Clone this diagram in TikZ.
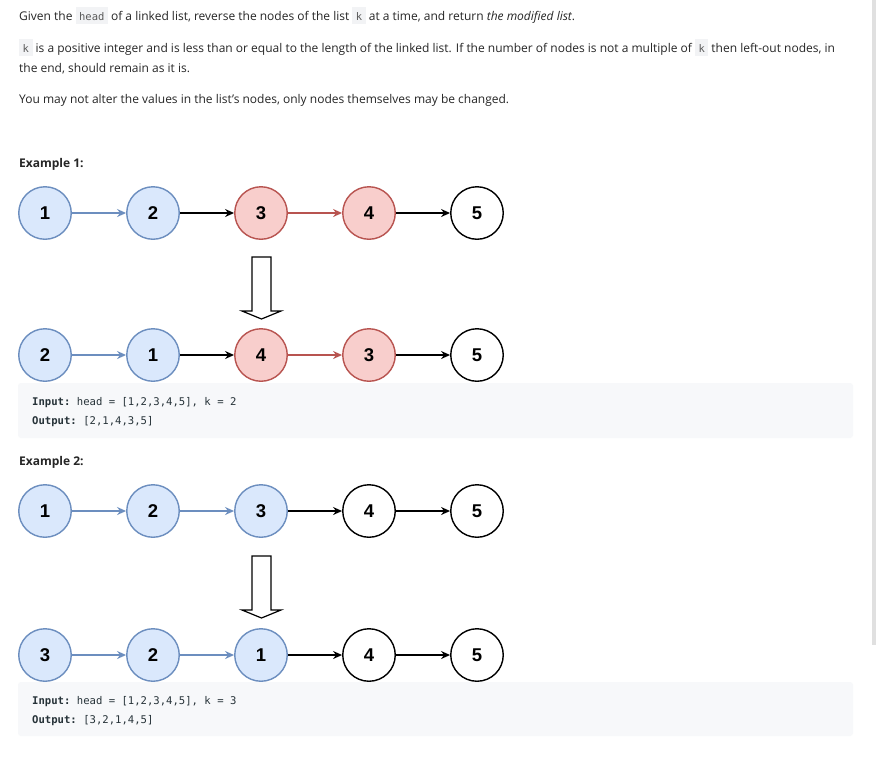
\documentclass[tikz,border=0pt]{standalone}
\usepackage{fontspec}
\setmainfont{Open Sans}
\setmonofont{DejaVu Sans Mono}
\newfontfamily\numfont{Liberation Sans}
\usetikzlibrary{arrows.meta}
\definecolor{txt}{RGB}{38,38,38}
\definecolor{bfill}{HTML}{DAE8FC}
\definecolor{bdraw}{HTML}{6C8EBF}
\definecolor{rfill}{HTML}{F8CECC}
\definecolor{rdraw}{HTML}{B85450}
\definecolor{chipbg}{RGB}{242,243,245}
\definecolor{chiptxt}{RGB}{90,90,90}
\definecolor{codebg}{RGB}{247,248,250}
\definecolor{codetxt}{RGB}{38,50,56}
\definecolor{scrollc}{RGB}{224,224,224}
\newcommand\chip[1]{{\setlength{\fboxsep}{0pt}\colorbox{chipbg}{\rule[-4pt]{0pt}{17pt}\hspace{3.5pt}{\ttfamily\fontsize{10.5}{12}\selectfont\color{chiptxt}#1}\hspace{3.5pt}}}}
\begin{document}
\begin{tikzpicture}[x=1pt,y=-1pt,
  body/.style={anchor=base west, inner sep=0pt, text=txt, font=\fontsize{12.0}{15}\selectfont},
  head/.style={anchor=base west, inner sep=0pt, text=txt, font=\bfseries\fontsize{12.0}{15}\selectfont},
  code/.style={anchor=base west, inner sep=0pt, text=codetxt, font=\ttfamily\fontsize{10.6}{12}\selectfont},
  ln/.style={circle, minimum size=52.5pt, inner sep=0pt, line width=1.4pt, font=\numfont\bfseries\fontsize{18.5}{18.5}\selectfont},
  bn/.style={ln, fill=bfill, draw=bdraw},
  rn/.style={ln, fill=rfill, draw=rdraw},
  wn/.style={ln, fill=white, draw=black},
  lk/.style={-{Stealth[length=9pt,width=8pt,inset=3pt]}, line width=1.3pt},
  bl/.style={lk, draw=bdraw, fill=bdraw},
  rl/.style={lk, draw=rdraw, fill=rdraw},
  kl/.style={lk, draw=black, fill=black},
  codebox/.style={fill=codebg, rounded corners=3pt},
  bigarrow/.style={draw=black, fill=white, line width=1.2pt, line join=miter}
]
\useasboundingbox (0,0) rectangle (876,756);
\fill[white] (0,0) rectangle (876,756);
\fill[scrollc] (872,0) rectangle (876,645);

% description text
\node[body] (t1) at (19,20) {Given the \chip{head} of a linked list, reverse the nodes of the list \chip{k} at a time, and return \emph{the modified list}.};
\node[body] (t2) at (19,52) {\chip{k} is a positive integer and is less than or equal to the length of the linked list. If the number of nodes is not a multiple of \chip{k} then left-out nodes, in};
\node[body] (t3) at (19,72) {the end, should remain as it is.};
\node[body] (t4) at (19,103) {You may not alter the values in the list's nodes, only nodes themselves may be changed.};

% Example 1
\node[head] (e1) at (19,167) {Example 1:};
\node[bn] (a1) at (45,213) {1};
\node[bn] (a2) at (153,213) {2};
\node[rn] (a3) at (261,213) {3};
\node[rn] (a4) at (369,213) {4};
\node[wn] (a5) at (477,213) {5};
\draw[bl] (a1) -- (a2);
\draw[kl] (a2) -- (a3);
\draw[rl] (a3) -- (a4);
\draw[kl] (a4) -- (a5);

\draw[bigarrow] (252,257) -- (271,257) -- (271,311) -- (281,311) -- (261.5,319) -- (242,311) -- (252,311) -- cycle;

\node[bn] (b1) at (45,355) {2};
\node[bn] (b2) at (153,355) {1};
\node[rn] (b3) at (261,355) {4};
\node[rn] (b4) at (369,355) {3};
\node[wn] (b5) at (477,355) {5};
\draw[bl] (b1) -- (b2);
\draw[kl] (b2) -- (b3);
\draw[rl] (b3) -- (b4);
\draw[kl] (b4) -- (b5);

\fill[codebox] (18,383) rectangle (853,438);
\node[code] (i1) at (32,405) {\textbf{Input:} head = [1,2,3,4,5], k = 2};
\node[code] (o1) at (32,424) {\textbf{Output:} [2,1,4,3,5]};

% Example 2
\node[head] (e2) at (19,465) {Example 2:};
\node[bn] (c1) at (45,511) {1};
\node[bn] (c2) at (153,511) {2};
\node[bn] (c3) at (261,511) {3};
\node[wn] (c4) at (369,511) {4};
\node[wn] (c5) at (477,511) {5};
\draw[bl] (c1) -- (c2);
\draw[bl] (c2) -- (c3);
\draw[kl] (c3) -- (c4);
\draw[kl] (c4) -- (c5);

\draw[bigarrow] (252,556) -- (271,556) -- (271,610) -- (281,610) -- (261.5,618) -- (242,610) -- (252,610) -- cycle;

\node[bn] (d1) at (45,655) {3};
\node[bn] (d2) at (153,655) {2};
\node[bn] (d3) at (261,655) {1};
\node[wn] (d4) at (369,655) {4};
\node[wn] (d5) at (477,655) {5};
\draw[bl] (d1) -- (d2);
\draw[bl] (d2) -- (d3);
\draw[kl] (d3) -- (d4);
\draw[kl] (d4) -- (d5);

\fill[codebox] (18,682) rectangle (853,736);
\node[code] (i2) at (32,704) {\textbf{Input:} head = [1,2,3,4,5], k = 3};
\node[code] (o2) at (32,723) {\textbf{Output:} [3,2,1,4,5]};
\end{tikzpicture}
\end{document}
